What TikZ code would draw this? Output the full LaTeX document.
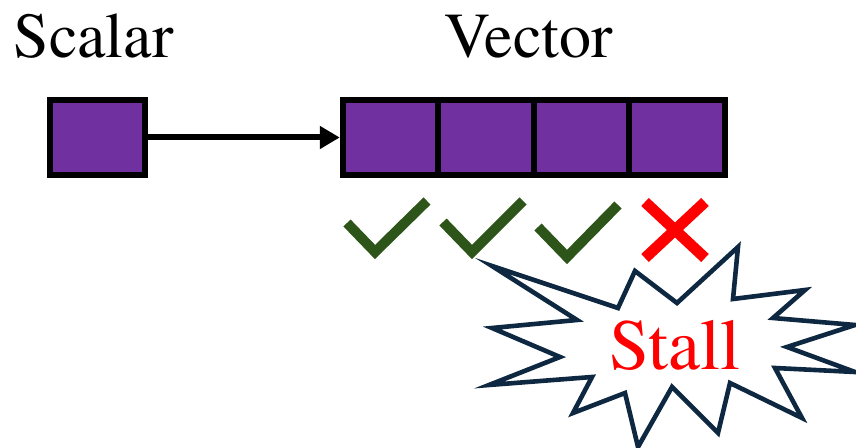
\documentclass[tikz,border=0pt]{standalone}
\usepackage{fontspec}
\newfontfamily\timesfont{texgyretermes-regular.otf}
\usetikzlibrary{arrows.meta,positioning}

\definecolor{regpurple}{RGB}{112,48,160}
\definecolor{okgreen}{RGB}{45,84,25}
\definecolor{burstline}{RGB}{14,40,65}

\tikzset{
  cell/.style={draw=black, line width=3pt, fill=regpurple, minimum width=47.75pt, minimum height=37.5pt, inner sep=0pt},
  tick/.style={draw=okgreen, line width=5pt},
  cross/.style={draw=red, line width=5.5pt},
  heading/.style={font=\timesfont\fontsize{32}{36}\selectfont, anchor=base}
}

\begin{document}
\begin{tikzpicture}[x=0.5pt,y=-0.5pt]
\useasboundingbox (0,0) rectangle (856,448);

\node[heading] (scalarlbl) at (93.5,58) {Scalar};
\node[heading] (vectorlbl) at (528.5,58) {Vector};

% scalar register and the four vector lanes
\node[cell, minimum width=47.5pt] (scalar) at (97.5,137.5) {};
\foreach \i/\x in {1/390.5, 2/486, 3/581.5, 4/677}
  \node[cell] (v\i) at (\x,137.5) {};

\draw[line width=3pt, -{Triangle[length=10pt,width=11pt]}] (scalar.east) -- (v1.west);

% lane status
\draw[tick] (347,223) -- (375,252) -- (427,201);
\draw[tick] (443,222) -- (472,252) -- (523,201);
\draw[tick] (538,227) -- (567,257) -- (618,205);
\draw[cross] (645,202) -- (705,258);
\draw[cross] (705,202) -- (645,258);

% burst
\draw[burstline, line width=2.3pt, fill=white, line join=miter]
  (492,266) -- (618,308) -- (635,271) -- (677,303) -- (738,247) -- (733,299)
  -- (805,290) -- (773,318) -- (855,325) -- (787,347) -- (855,372) -- (775,368)
  -- (802,418) -- (730,383) -- (718,433) -- (672,387) -- (638,447) -- (625,393)
  -- (573,413) -- (592,377) -- (489,385) -- (560,357) -- (492,328) -- (577,320)
  -- cycle;
\node[text=red, font=\timesfont\fontsize{36}{40}\selectfont, anchor=base] (stall) at (675,370) {Stall};

\end{tikzpicture}
\end{document}
